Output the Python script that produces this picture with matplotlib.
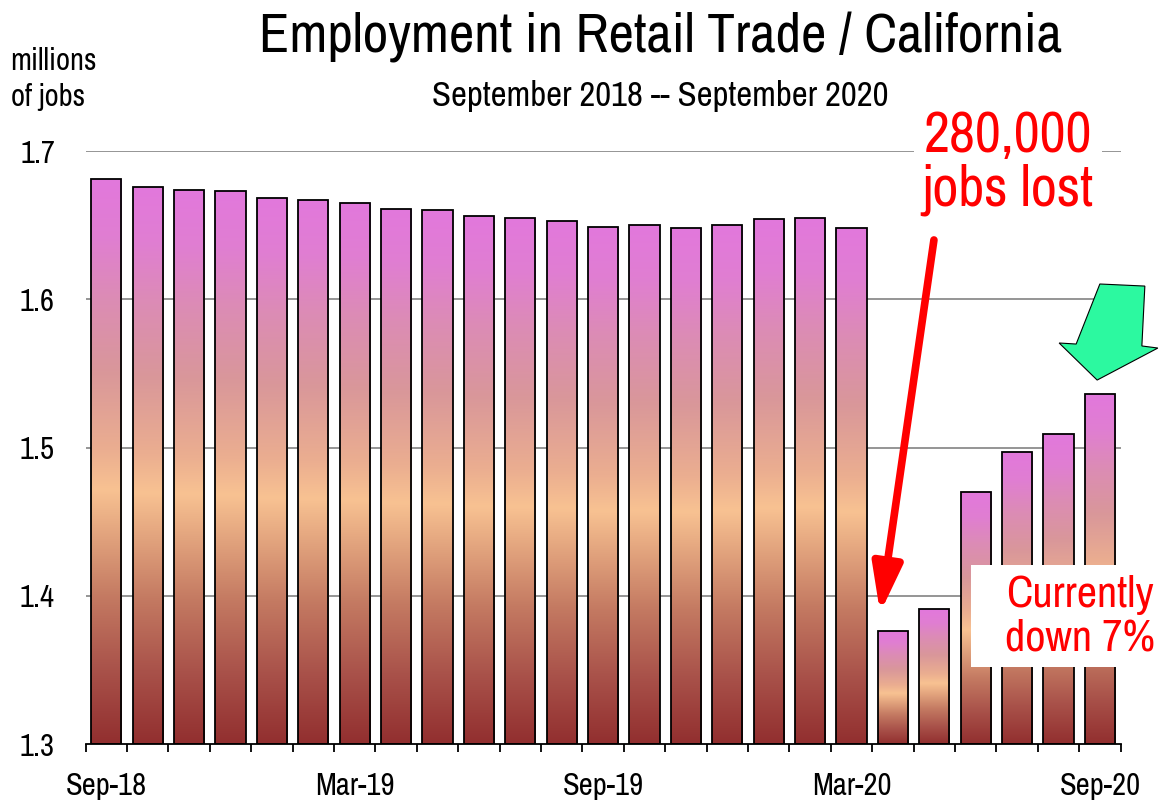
import numpy as np
import matplotlib
matplotlib.use("Agg")
import matplotlib.pyplot as plt
from matplotlib.colors import LinearSegmentedColormap
from matplotlib.patches import Polygon, Rectangle

# monthly employment, Sep-2018 .. Sep-2020 (millions of jobs)
months = ['Sep-18', 'Oct-18', 'Nov-18', 'Dec-18', 'Jan-19', 'Feb-19', 'Mar-19',
          'Apr-19', 'May-19', 'Jun-19', 'Jul-19', 'Aug-19', 'Sep-19', 'Oct-19',
          'Nov-19', 'Dec-19', 'Jan-20', 'Feb-20', 'Mar-20', 'Apr-20', 'May-20',
          'Jun-20', 'Jul-20', 'Aug-20', 'Sep-20']
jobs = [1.681, 1.676, 1.674, 1.673, 1.668, 1.667, 1.665, 1.661, 1.660, 1.656,
        1.655, 1.653, 1.649, 1.650, 1.648, 1.650, 1.654, 1.655, 1.648, 1.376,
        1.391, 1.470, 1.497, 1.509, 1.536]
labelled = ['Sep-18', 'Mar-19', 'Sep-19', 'Mar-20', 'Sep-20']
y_ticks = [1.3, 1.4, 1.5, 1.6, 1.7]

plt.rcParams['font.family'] = ['Archivo Narrow', 'PT Sans Narrow', 'DejaVu Sans']

# bar gradient: dark red at base, peach in the middle, pink on top
grad = LinearSegmentedColormap.from_list('retail', [
    (0.00, '#922f2f'), (0.13, '#a9524a'), (0.26, '#c47a62'), (0.45, '#f8c292'),
    (0.52, '#ebae90'), (0.66, '#d9979a'), (0.79, '#dc8cb5'), (0.90, '#e07ed2'),
    (1.00, '#e278dc')])

fig = plt.figure(figsize=(11.67, 8.02), dpi=100)
ax = fig.add_axes([0.0733, 0.0723, 0.887, 0.7394])

x = np.arange(len(jobs))
ymin, ymax = y_ticks[0], y_ticks[-1]
width = 0.73

for v in y_ticks[1:]:
    ax.axhline(v, color='#8c8c8c', lw=1.3, zorder=1)

bars = ax.bar(x, np.array(jobs) - ymin, bottom=ymin, width=width,
              facecolor='none', edgecolor='black', linewidth=1.3, zorder=3)
g = np.linspace(0, 1, 256).reshape(-1, 1)
for b in bars:
    x0 = b.get_x()
    im = ax.imshow(g, cmap=grad, origin='lower', aspect='auto', zorder=2,
                   extent=(x0, x0 + b.get_width(), ymin, ymin + b.get_height()))
    im.set_clip_path(b)
ax.set_xlim(-0.5, len(jobs) - 0.5)
ax.set_ylim(ymin, ymax)

for s in ['top', 'right', 'left']:
    ax.spines[s].set_visible(False)
ax.spines['bottom'].set_linewidth(1.3)

ax.set_yticks(y_ticks)
ax.set_yticklabels([f'{v:.1f}' for v in y_ticks])
ax.tick_params(axis='y', length=0, pad=22, labelsize=22)
ax.set_xticks([months.index(m) for m in labelled])
ax.set_xticklabels(labelled)
ax.set_xticks(np.arange(len(jobs) + 1) - 0.5, minor=True)
ax.tick_params(axis='x', which='major', length=0, pad=20, labelsize=22)
ax.tick_params(axis='x', which='minor', length=6, width=1.3, direction='out')

fig.text(0.5656, 0.935, 'Employment in Retail Trade / California', ha='center',
         va='baseline', fontsize=40)
fig.text(0.5656, 0.868, 'September 2018 -- September 2020', ha='center',
         va='baseline', fontsize=25)
fig.text(0.009, 0.868, 'millions\nof jobs', ha='left', va='baseline',
         fontsize=22, linespacing=1.35)

# annotations
ax.text(21.78, 1.692, '280,000\njobs lost', ha='center', va='center', color='red',
        fontsize=41, linespacing=1.05, zorder=6, clip_on=False,
        bbox=dict(boxstyle='square,pad=0.15', fc='white', ec='none'))
ax.annotate('', xy=(18.69, 1.3884), xytext=(19.99, 1.640),
            arrowprops=dict(arrowstyle='-|>,head_length=2.9,head_width=0.9',
                            mutation_scale=10, lw=5.5, color='red',
                            shrinkA=0, shrinkB=0), zorder=6)
ax.add_patch(Rectangle((20.89, 1.352), 5.0, 0.0687, fc='white', ec='none',
                       zorder=5, clip_on=False))
ax.text(23.52, 1.386, 'Currently\ndown 7%', ha='center', va='center', color='red',
        fontsize=32, linespacing=1.1, zorder=6, clip_on=False)
arrow = [(23.997, 1.6103), (25.084, 1.6089), (25.012, 1.5685), (25.398, 1.5671),
         (23.932, 1.5455), (23.014, 1.5705), (23.425, 1.5698)]
ax.add_patch(Polygon(arrow, closed=True, fc='#2cf9a0', ec='black', lw=0.8,
                     zorder=6, clip_on=False))

fig.savefig('out.png', dpi=100)
